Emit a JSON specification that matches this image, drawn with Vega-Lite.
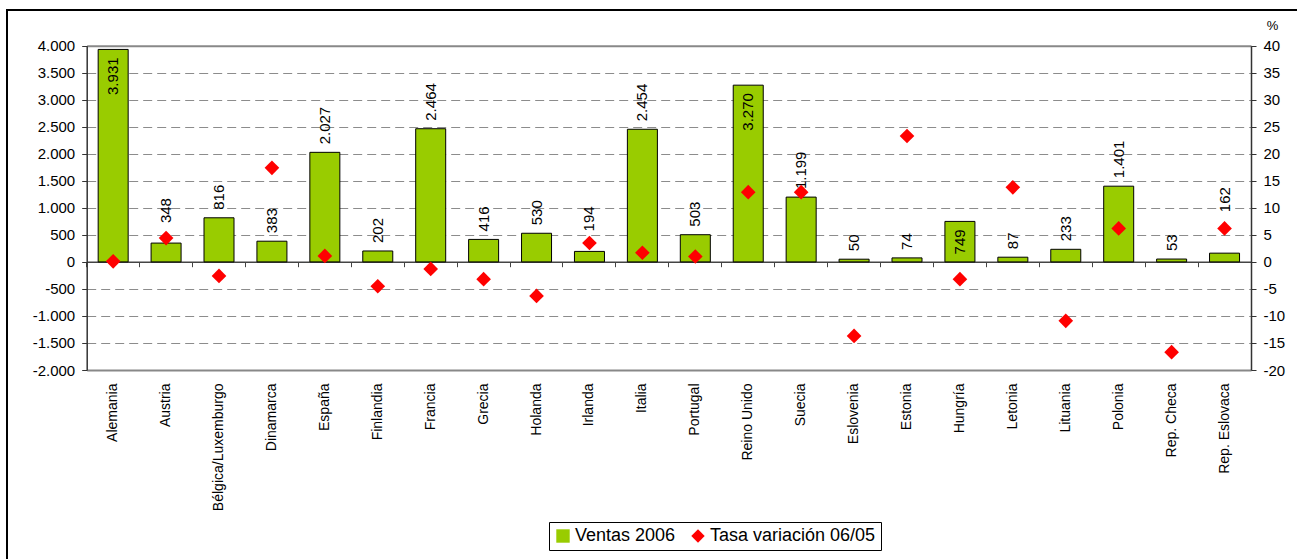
{
  "$schema": "https://vega.github.io/schema/vega-lite/v6.json",
  "width": 1292,
  "height": 551,
  "autosize": {"type": "none"},
  "padding": {"left": 7, "top": 10, "right": -2, "bottom": -2},
  "background": "white",
  "view": {"stroke": "#000", "strokeWidth": 2},
  "config": {
    "locale": {"number": {"decimal": ",", "thousands": ".", "grouping": [3], "currency": ["", " €"], "minus": "-"}},
    "font": "Liberation Sans",
    "axis": {"labelColor": "#000", "labelFont": "Liberation Sans", "titleFont": "Liberation Sans", "titleColor": "#000"}
  },
  "data": {"values": [
    {"pais": "Alemania", "ventas": 3931, "tasa": 0.1},
    {"pais": "Austria", "ventas": 348, "tasa": 4.4},
    {"pais": "Bélgica/Luxemburgo", "ventas": 816, "tasa": -2.6},
    {"pais": "Dinamarca", "ventas": 383, "tasa": 17.4},
    {"pais": "España", "ventas": 2027, "tasa": 1.1},
    {"pais": "Finlandia", "ventas": 202, "tasa": -4.5},
    {"pais": "Francia", "ventas": 2464, "tasa": -1.3},
    {"pais": "Grecia", "ventas": 416, "tasa": -3.2},
    {"pais": "Holanda", "ventas": 530, "tasa": -6.3},
    {"pais": "Irlanda", "ventas": 194, "tasa": 3.5},
    {"pais": "Italia", "ventas": 2454, "tasa": 1.7},
    {"pais": "Portugal", "ventas": 503, "tasa": 1.0},
    {"pais": "Reino Unido", "ventas": 3270, "tasa": 12.9},
    {"pais": "Suecia", "ventas": 1199, "tasa": 12.9},
    {"pais": "Eslovenia", "ventas": 50, "tasa": -13.7},
    {"pais": "Estonia", "ventas": 74, "tasa": 23.3},
    {"pais": "Hungría", "ventas": 749, "tasa": -3.2},
    {"pais": "Letonia", "ventas": 87, "tasa": 13.8},
    {"pais": "Lituania", "ventas": 233, "tasa": -10.9},
    {"pais": "Polonia", "ventas": 1401, "tasa": 6.2},
    {"pais": "Rep. Checa", "ventas": 53, "tasa": -16.7},
    {"pais": "Rep. Eslovaca", "ventas": 162, "tasa": 6.2}
  ]},
  "resolve": {"scale": {"y": "independent"}, "axis": {"x": "independent", "y": "independent"}},
  "layer": [
    {
      "mark": {"type": "bar"},
      "encoding": {
        "x": {"field": "pais", "type": "nominal", "sort": null,
          "scale": {"range": [79.7, 1244], "paddingInner": 0.433, "paddingOuter": 0.2165},
          "axis": {"orient": "bottom", "offset": -191, "title": null, "labelAngle": -90, "labelFontSize": 14, "labelPadding": 13, "ticks": false, "domainColor": "#888", "domainWidth": 2, "grid": false}},
        "y": {"field": "ventas", "type": "quantitative",
          "scale": {"domain": [-2000, 4000], "range": [360, 35.7], "nice": false},
          "axis": {"orient": "left", "offset": -79.7, "title": null, "values": [-2000, -1500, -1000, -500, 0, 500, 1000, 1500, 2000, 2500, 3000, 3500, 4000], "format": ",d", "labelFontSize": 15, "labelPadding": 7, "tickSize": 5, "tickColor": "#333", "domainColor": "#333", "domainWidth": 1.5, "grid": true, "gridDash": [9, 5], "gridColor": "#8c8c8c", "gridWidth": 1}},
        "color": {"datum": "Ventas 2006", "type": "nominal",
          "scale": {"domain": ["Ventas 2006", "Tasa variación 06/05"], "range": ["#99CC00", "#FF0000"]},
          "legend": {"title": null, "orient": "none", "legendX": 542, "legendY": 512, "direction": "horizontal", "strokeColor": "#000", "fillColor": "#fff", "padding": 5, "labelFontSize": 18, "labelFont": "Liberation Sans", "labelColor": "#000", "labelOffset": 3, "labelLimit": 400, "columnPadding": 13, "symbolSize": 180, "symbolStrokeWidth": 0}}
      }
    },
    {
      "mark": {"type": "bar", "fillOpacity": 0, "stroke": "#000", "strokeWidth": 1},
      "encoding": {
        "x": {"field": "pais", "type": "nominal", "sort": null, "scale": {"range": [79.7, 1244], "paddingInner": 0.433, "paddingOuter": 0.2165}, "axis": null},
        "y": {"field": "ventas", "type": "quantitative", "scale": {"domain": [-2000, 4000], "range": [360, 35.7], "nice": false}, "axis": null}
      }
    },
    {
      "transform": [{"filter": "datum.pais !== 'Alemania' && datum.pais !== 'Reino Unido' && datum.pais !== 'Hungría' && datum.pais !== 'Austria' && datum.pais !== 'Irlanda' && datum.pais !== 'Rep. Eslovaca'"}],
      "mark": {"type": "text", "angle": 270, "align": "left", "baseline": "middle", "dx": 8, "fontSize": 15, "font": "Liberation Sans", "color": "#000"},
      "encoding": {
        "x": {"field": "pais", "type": "nominal", "sort": null,
          "scale": {"range": [79.7, 1244], "paddingInner": 0.433, "paddingOuter": 0.2165},
          "axis": {"orient": "top", "offset": -35.7, "title": null, "labels": false, "ticks": false, "domainColor": "#888", "domainWidth": 2, "grid": false}},
        "y": {"field": "ventas", "type": "quantitative", "scale": {"domain": [-2000, 4000], "range": [360, 35.7], "nice": false}, "axis": null},
        "text": {"field": "ventas", "type": "quantitative", "format": ",d"}
      }
    },
    {
      "transform": [{"filter": "datum.pais === 'Alemania' || datum.pais === 'Reino Unido' || datum.pais === 'Hungría'"}],
      "mark": {"type": "text", "angle": 270, "align": "right", "baseline": "middle", "dx": -8, "fontSize": 15, "font": "Liberation Sans", "color": "#000"},
      "encoding": {
        "x": {"field": "pais", "type": "nominal", "sort": null, "scale": {"range": [79.7, 1244], "paddingInner": 0.433, "paddingOuter": 0.2165}, "axis": null},
        "y": {"field": "ventas", "type": "quantitative", "scale": {"domain": [-2000, 4000], "range": [360, 35.7], "nice": false}, "axis": null},
        "text": {"field": "ventas", "type": "quantitative", "format": ",d"}
      }
    },
    {
      "transform": [{"filter": "datum.pais === 'Austria' || datum.pais === 'Irlanda'"}],
      "mark": {"type": "text", "angle": 270, "align": "left", "baseline": "middle", "dx": 20, "fontSize": 15, "font": "Liberation Sans", "color": "#000"},
      "encoding": {
        "x": {"field": "pais", "type": "nominal", "sort": null, "scale": {"range": [79.7, 1244], "paddingInner": 0.433, "paddingOuter": 0.2165}, "axis": null},
        "y": {"field": "ventas", "type": "quantitative", "scale": {"domain": [-2000, 4000], "range": [360, 35.7], "nice": false}, "axis": null},
        "text": {"field": "ventas", "type": "quantitative", "format": ",d"}
      }
    },
    {
      "transform": [{"filter": "datum.pais === 'Rep. Eslovaca'"}],
      "mark": {"type": "text", "angle": 270, "align": "left", "baseline": "middle", "dx": 41, "fontSize": 15, "font": "Liberation Sans", "color": "#000"},
      "encoding": {
        "x": {"field": "pais", "type": "nominal", "sort": null, "scale": {"range": [79.7, 1244], "paddingInner": 0.433, "paddingOuter": 0.2165}, "axis": null},
        "y": {"field": "ventas", "type": "quantitative", "scale": {"domain": [-2000, 4000], "range": [360, 35.7], "nice": false}, "axis": null},
        "text": {"field": "ventas", "type": "quantitative", "format": ",d"}
      }
    },
    {
      "mark": {"type": "point", "filled": true, "size": 215, "opacity": 1, "strokeWidth": 0},
      "encoding": {
        "x": {"field": "pais", "type": "nominal", "sort": null,
          "scale": {"range": [79.7, 1244], "paddingInner": 0.433, "paddingOuter": 0.2165},
          "axis": {"orient": "bottom", "offset": -299.3, "title": null, "labels": false, "ticks": true, "bandPosition": -0.382, "tickSize": 5, "tickColor": "#444", "tickWidth": 1, "domainColor": "#444", "domainWidth": 1.5, "grid": false}},
        "y": {"field": "tasa", "type": "quantitative",
          "scale": {"domain": [-20, 40], "range": [360, 35.7], "nice": false},
          "axis": {"orient": "right", "offset": -48, "values": [-20, -15, -10, -5, 0, 5, 10, 15, 20, 25, 30, 35, 40], "format": "d", "labelFontSize": 15, "labelPadding": 7, "tickSize": 5, "tickColor": "#333", "domainColor": "#333", "domainWidth": 1.5, "grid": false,
            "title": "%", "titleAngle": 0, "titleX": 21, "titleY": 15, "titleAlign": "center", "titleBaseline": "middle", "titleFontSize": 13, "titleFontWeight": "normal"}},
        "color": {"datum": "Tasa variación 06/05", "type": "nominal",
          "scale": {"domain": ["Ventas 2006", "Tasa variación 06/05"], "range": ["#99CC00", "#FF0000"]},
          "legend": {"title": null, "orient": "none", "legendX": 542, "legendY": 512, "direction": "horizontal", "strokeColor": "#000", "fillColor": "#fff", "padding": 5, "labelFontSize": 18, "labelFont": "Liberation Sans", "labelColor": "#000", "labelOffset": 3, "labelLimit": 400, "columnPadding": 13, "symbolSize": 180, "symbolStrokeWidth": 0}},
        "shape": {"datum": "Tasa variación 06/05", "type": "nominal",
          "scale": {"domain": ["Ventas 2006", "Tasa variación 06/05"], "range": ["square", "diamond"]},
          "legend": {"title": null, "orient": "none", "legendX": 542, "legendY": 512, "direction": "horizontal", "strokeColor": "#000", "fillColor": "#fff", "padding": 5, "labelFontSize": 18, "labelFont": "Liberation Sans", "labelColor": "#000", "labelOffset": 3, "labelLimit": 400, "columnPadding": 13, "symbolSize": 180, "symbolStrokeWidth": 0}}
      }
    }
  ]
}
